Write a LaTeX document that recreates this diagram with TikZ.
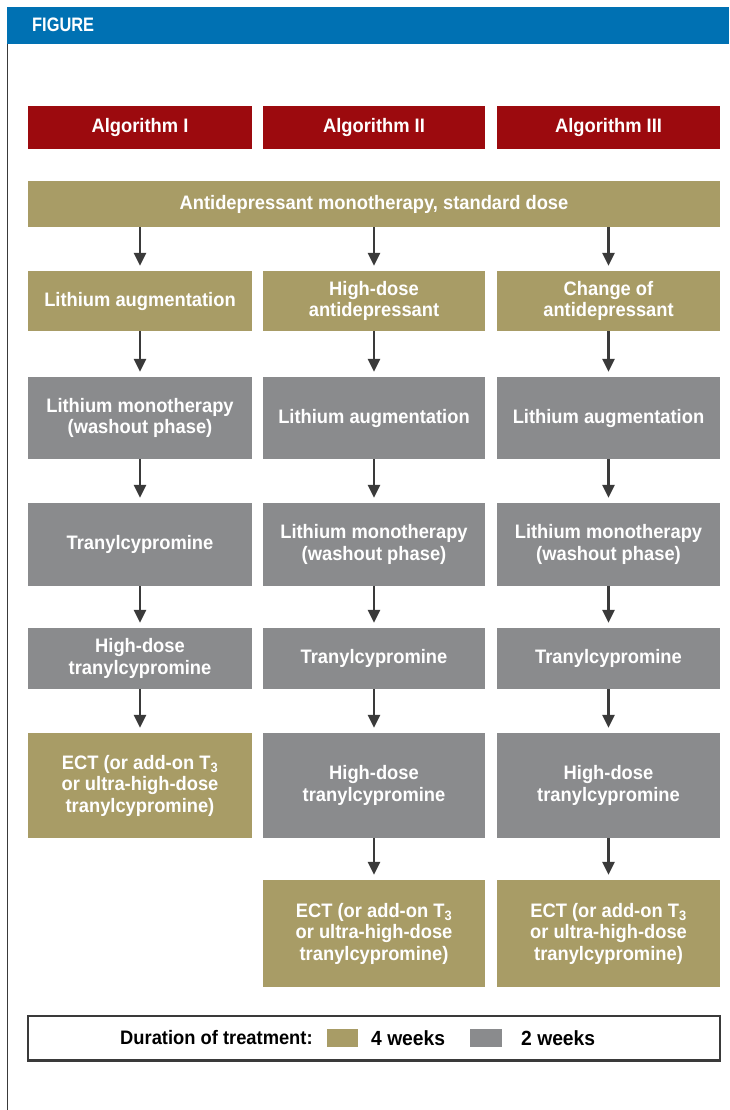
\documentclass[tikz,border=0pt]{standalone}
\usepackage{fontspec}
\setmainfont{Liberation Sans}
\newfontfamily\cond[FakeStretch=0.94]{Liberation Sans}
\newfontfamily\condfig[FakeStretch=0.84]{Liberation Sans}
\usetikzlibrary{arrows.meta}
\definecolor{figblue}{HTML}{0071B3}
\definecolor{algred}{HTML}{9C0A0E}
\definecolor{tan}{HTML}{A89C66}
\definecolor{grey2}{HTML}{8A8B8D}
\definecolor{arrowc}{HTML}{3A3A3A}
\tikzset{
  box/.style={rectangle, inner sep=0pt, align=center, text=white, font=\cond\bfseries\fontsize{19.5}{21.5}\selectfont},
  hdr/.style={box, fill=algred},
  four/.style={box, fill=tan},
  two/.style={box, fill=grey2},
  legtext/.style={anchor=west, inner sep=0pt, text=black, font=\cond\bfseries\fontsize{19.5}{21.5}\selectfont},
  flow/.style={draw=arrowc, line width=2.8pt, -{Triangle[width=12pt,length=13pt]}, shorten >=5pt},
}
\begin{document}
\begin{tikzpicture}[x=1pt,y=-1pt]
\useasboundingbox (0,0) rectangle (729,1110);
\fill[white] (0,0) rectangle (729,1110);
% header
\fill[figblue] (7,7) rectangle (729,44);
\node[anchor=west, inner sep=0pt, text=white, font=\condfig\bfseries\fontsize{19.5}{21}\selectfont] (fig) at (32,25) {FIGURE};
\draw[arrowc, line width=1pt] (7,44) -- (7,1110);
% algorithm headers
\node[hdr, minimum width=224pt, minimum height=43pt] (h1) at (140,127.5) {Algorithm I};
\node[hdr, minimum width=222pt, minimum height=43pt] (h2) at (374,127.5) {Algorithm II};
\node[hdr, minimum width=223pt, minimum height=43pt] (h3) at (608.5,127.5) {Algorithm III};
% top
\node[four, minimum width=692pt, minimum height=46pt] (top) at (374,204) {Antidepressant monotherapy, standard dose};
\coordinate (t1) at (140,227);
\coordinate (t2) at (374,227);
\coordinate (t3) at (608.5,227);
% column 1
\node[four, minimum width=224pt, minimum height=60pt] (a1) at (140,301) {Lithium augmentation};
\node[two, minimum width=224pt, minimum height=82pt] (a2) at (140,418) {Lithium monotherapy\\(washout phase)};
\node[two, minimum width=224pt, minimum height=83pt] (a3) at (140,544.5) {Tranylcypromine};
\node[two, minimum width=224pt, minimum height=61pt] (a4) at (140,658.5) {High-dose\\tranylcypromine};
\node[four, minimum width=224pt, minimum height=105pt] (a5) at (140,785.5) {ECT (or add-on T\textsubscript{3}\\or ultra-high-dose\\tranylcypromine)};
% column 2
\node[four, minimum width=222pt, minimum height=60pt] (b1) at (374,301) {High-dose\\antidepressant};
\node[two, minimum width=222pt, minimum height=82pt] (b2) at (374,418) {Lithium augmentation};
\node[two, minimum width=222pt, minimum height=83pt] (b3) at (374,544.5) {Lithium monotherapy\\(washout phase)};
\node[two, minimum width=222pt, minimum height=61pt] (b4) at (374,658.5) {Tranylcypromine};
\node[two, minimum width=222pt, minimum height=105pt] (b5) at (374,785.5) {High-dose\\tranylcypromine};
\node[four, minimum width=222pt, minimum height=107pt] (b6) at (374,933.5) {ECT (or add-on T\textsubscript{3}\\or ultra-high-dose\\tranylcypromine)};
% column 3
\node[four, minimum width=223pt, minimum height=60pt] (c1) at (608.5,301) {Change of\\antidepressant};
\node[two, minimum width=223pt, minimum height=82pt] (c2) at (608.5,418) {Lithium augmentation};
\node[two, minimum width=223pt, minimum height=83pt] (c3) at (608.5,544.5) {Lithium monotherapy\\(washout phase)};
\node[two, minimum width=223pt, minimum height=61pt] (c4) at (608.5,658.5) {Tranylcypromine};
\node[two, minimum width=223pt, minimum height=105pt] (c5) at (608.5,785.5) {High-dose\\tranylcypromine};
\node[four, minimum width=223pt, minimum height=107pt] (c6) at (608.5,933.5) {ECT (or add-on T\textsubscript{3}\\or ultra-high-dose\\tranylcypromine)};
% arrows
\draw[flow] (t1) -- (a1.north);
\draw[flow] (t2) -- (b1.north);
\draw[flow] (t3) -- (c1.north);
\draw[flow] (a1) -- (a2);
\draw[flow] (a2) -- (a3);
\draw[flow] (a3) -- (a4);
\draw[flow] (a4) -- (a5);
\draw[flow] (b1) -- (b2);
\draw[flow] (b2) -- (b3);
\draw[flow] (b3) -- (b4);
\draw[flow] (b4) -- (b5);
\draw[flow] (b5) -- (b6);
\draw[flow] (c1) -- (c2);
\draw[flow] (c2) -- (c3);
\draw[flow] (c3) -- (c4);
\draw[flow] (c4) -- (c5);
\draw[flow] (c5) -- (c6);
% legend
\node[draw=arrowc, line width=1.6pt, fill=white, minimum width=692pt, minimum height=44pt, inner sep=0pt] (leg) at (374,1038) {};
\draw[arrowc, line width=3pt] (leg.south west) -- (leg.south east);
\node[legtext] (lt) at (120,1038) {Duration of treatment:};
\node[fill=tan, minimum width=31pt, minimum height=18pt, inner sep=0pt] (s1) at (342.5,1038) {};
\node[legtext, font=\cond\bfseries\fontsize{20.5}{22}\selectfont] (l4) at (371,1038) {4 weeks};
\node[fill=grey2, minimum width=32pt, minimum height=18pt, inner sep=0pt] (s2) at (486,1038) {};
\node[legtext, font=\cond\bfseries\fontsize{20.5}{22}\selectfont] (l2) at (521,1038) {2 weeks};
\end{tikzpicture}
\end{document}
